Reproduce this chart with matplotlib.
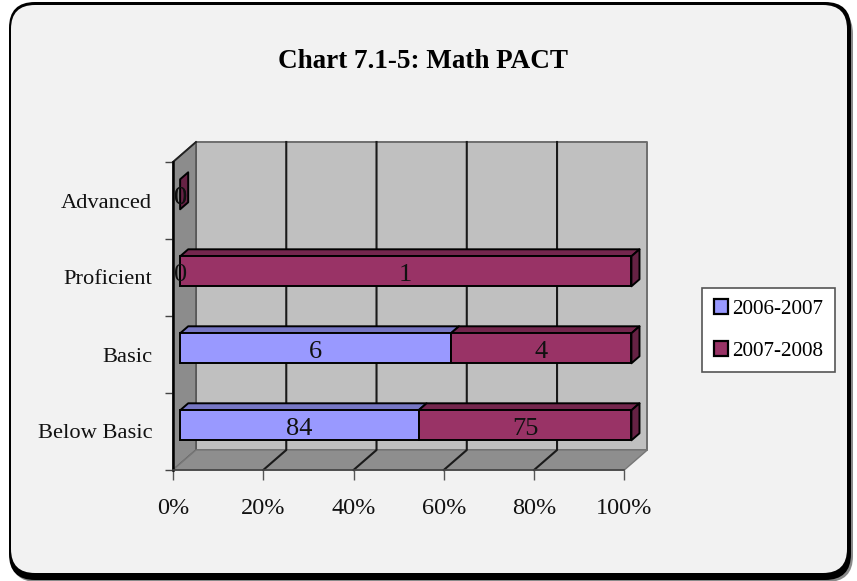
import numpy as np
import matplotlib
matplotlib.use("Agg")
import matplotlib.pyplot as plt
from matplotlib.patches import FancyBboxPatch, Polygon, Patch

categories = ["Below Basic", "Basic", "Proficient", "Advanced"]
series_names = ["2006-2007", "2007-2008"]
values_0607 = [84, 6, 0, 0]
values_0708 = [75, 4, 1, 0]
x_ticks = [0, 20, 40, 60, 80, 100]
title = "Chart 7.1-5: Math PACT"

W, H = 857, 581
plt.rcParams["font.family"] = ["Liberation Serif", "DejaVu Serif"]
fig = plt.figure(figsize=(W / 100, H / 100), dpi=100, facecolor="white")

# decorative frame, in pixel coordinates
bg = fig.add_axes([0, 0, 1, 1], zorder=0)
bg.set_xlim(0, W); bg.set_ylim(H, 0); bg.axis("off")
def rbox(x0, y0, x1, y1, r, color):
    bg.add_patch(FancyBboxPatch((x0 + r, y0 + r), x1 - x0 - 2 * r, y1 - y0 - 2 * r,
                                boxstyle=f"round,pad={r},rounding_size={r}",
                                fc=color, ec="none"))
rbox(11, 8, 853, 582, 26, "#8a8a8a")
rbox(9, 2, 851, 580, 26, "black")
rbox(11, 5, 847, 573, 24, "#f2f2f2")

# main axes: front plane of the 3-D box
ax = fig.add_axes([173 / W, 1 - 470 / H, (624.3 - 173) / W, (470 - 162) / H], zorder=1)
ax.patch.set_alpha(0)
ax.set_xlim(0, 100); ax.set_ylim(-0.5, 3.5)
ax.set_autoscale_on(False)

DX = 23 / (624.3 - 173) * 100     # full depth in x data units
DY = 20 / 77                      # full depth in y data units
def pr(x, y, d):
    return (x + d * DX, y + d * DY)
def poly(pts, fc, ec="black", lw=1.4, z=2):
    ax.add_patch(Polygon(pts, closed=True, fc=fc, ec=ec, lw=lw, zorder=z,
                         clip_on=False, joinstyle="round"))

# walls and floor
y0, y1 = -0.5, 3.5
poly([pr(0, y0, 1), pr(100, y0, 1), pr(100, y1, 1), pr(0, y1, 1)], "#c0c0c0", "#6e6e6e", 1.4, 1)
poly([pr(0, y0, 0), pr(0, y0, 1), pr(0, y1, 1), pr(0, y1, 0)], "#8c8c8c", "#555555", 1.2, 1.1)
poly([pr(0, y0, 0), pr(100, y0, 0), pr(100, y0, 1), pr(0, y0, 1)], "#8e8e8e", "#777777", 1.0, 1.1)
for t in x_ticks[1:-1]:
    a, b, c = pr(t, y0, 0), pr(t, y0, 1), pr(t, y1, 1)
    ax.plot([a[0], b[0], c[0]], [a[1], b[1], c[1]], color="#1a1a1a", lw=1.5, zorder=1.5, clip_on=False)
for yy in np.arange(-0.5, 3.6):
    a, b = pr(0, yy, 0), pr(0, yy, 1)
    if yy == y1:
        ax.plot([a[0], b[0]], [a[1], b[1]], color="#222222", lw=1.3, zorder=1.5, clip_on=False)

# stacked 100 % bars
a = np.array(values_0607, float)
b = np.array(values_0708, float)
tot = a + b
pa = np.divide(a * 100, tot, out=np.zeros_like(a), where=tot > 0)
pb = np.divide(b * 100, tot, out=np.zeros_like(b), where=tot > 0)
ypos = np.arange(len(categories))
D0, D1 = 0.31, 0.66
BH = 30 / 77
styles = [("#9999ff", "#7676c4", "#5f5f9e"), ("#993366", "#74264d", "#662244")]
for i, y in enumerate(ypos):
    left = 0.0
    y_lo, y_hi = y - BH / 2, y + BH / 2
    for vals, pct, (front, top, side) in zip((a, b), (pa, pb), styles):
        w = pct[i]
        if w > 0:
            poly([pr(left, y_hi, D0), pr(left + w, y_hi, D0), pr(left + w, y_hi, D1), pr(left, y_hi, D1)],
                 top, z=3)
            ax.barh(y + D0 * DY, w, left=left + D0 * DX, height=BH, color=front,
                    edgecolor="black", linewidth=1.4, zorder=4, clip_on=False)
        ax.text(left + w / 2 + D0 * DX, y + D0 * DY - 0.01, f"{vals[i]:.0f}", ha="center",
                va="center_baseline", fontsize=19, color="#111111", zorder=6, clip_on=False)
        left += w
    poly([pr(left, y_lo, D0), pr(left, y_hi, D0), pr(left, y_hi, D1), pr(left, y_lo, D1)],
         "#662244", z=5)

# axes decoration
for s in ("top", "right"):
    ax.spines[s].set_visible(False)
ax.spines["left"].set_color("black"); ax.spines["left"].set_linewidth(1.8); ax.spines["left"].set_zorder(2.5)
ax.spines["bottom"].set_color("#444444"); ax.spines["bottom"].set_linewidth(1.2); ax.spines["bottom"].set_zorder(2.5)
ax.set_xticks(x_ticks)
ax.set_xticklabels([f"{t}%" for t in x_ticks], fontsize=17.5, color="#111111")
ax.tick_params(axis="x", length=7.5, width=1, color="#555555", pad=12.5)
ax.set_yticks(np.arange(-0.5, 4))
ax.set_yticklabels([])
ax.tick_params(axis="y", which="major", length=6, width=1, color="#444444")
ax.set_yticks(ypos, minor=True)
ax.set_yticklabels(categories, minor=True, fontsize=16.2, color="#111111")
ax.tick_params(axis="y", which="minor", length=0, pad=15)

fig.text(423.5 / W, 1 - 62 / H, title, ha="center", va="center",
         fontsize=19.5, fontweight="bold", color="black", zorder=5)

handles = [Patch(fc=styles[0][0], ec="black", lw=1.6, label=series_names[0]),
           Patch(fc=styles[1][0], ec="black", lw=1.6, label=series_names[1])]
leg = fig.legend(handles=handles, loc="center",
                 bbox_to_anchor=(768.5 / W, 1 - 330 / H),
                 fontsize=15.2, fancybox=False, framealpha=1, facecolor="white",
                 edgecolor="#555555", handlelength=0.65, handleheight=0.7,
                 handletextpad=0.2, labelspacing=1.05, borderpad=0.55, borderaxespad=0)
leg.get_frame().set_linewidth(1.2)
leg.set_zorder(6)

fig.savefig("out.png", dpi=100, facecolor="white")
